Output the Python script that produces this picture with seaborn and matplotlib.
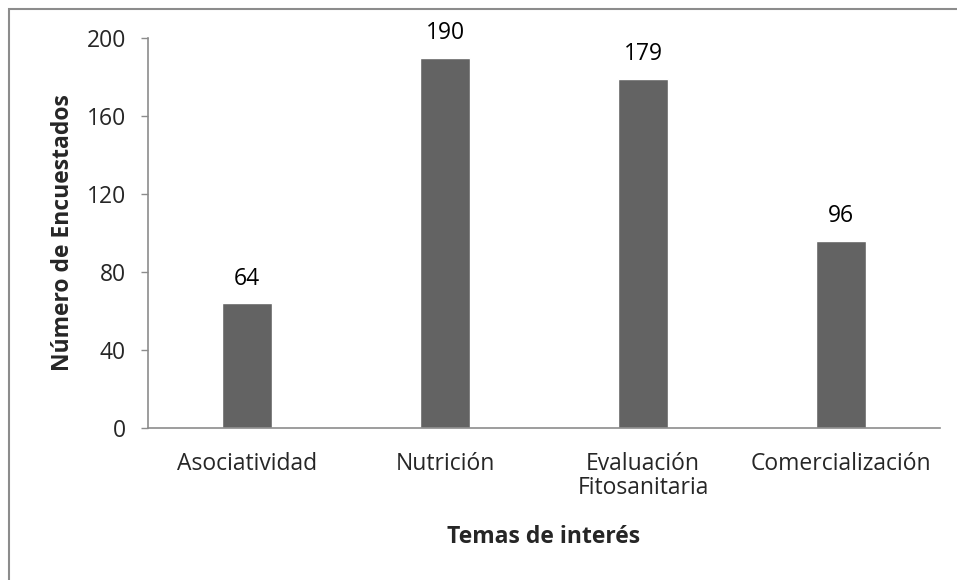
import matplotlib
matplotlib.use("Agg")
import matplotlib.pyplot as plt
import seaborn as sns
import pandas as pd
from matplotlib.patches import Rectangle

categories = ["Asociatividad", "Nutrición", "Evaluación\nFitosanitaria", "Comercialización"]
values = [64, 190, 179, 96]
y_ticks = [0, 40, 80, 120, 160, 200]

sns.set_theme(style="white")
plt.rcParams["font.family"] = ["Open Sans", "DejaVu Sans"]

FS = 16.5
W, H = 957, 580
fig = plt.figure(figsize=(W / 100, H / 100), dpi=100)
ax = fig.add_axes([148 / W, (H - 428) / H, (940 - 148) / W, (428 - 38) / H])

# Outer chart frame
fig.patches.append(Rectangle((9 / W, -0.1), 1.2, (H - 9) / H + 0.1,
                             transform=fig.transFigure, fill=False,
                             edgecolor="#8c8c8c", linewidth=1.5))

df = pd.DataFrame({"tema": categories, "n": values})
sns.barplot(data=df, x="tema", y="n", color="#636363", saturation=1,
            width=0.25, ax=ax)

for i, v in enumerate(values):
    ax.annotate(str(v), (i, v), xytext=(0, 9), textcoords="offset points",
                ha="center", va="bottom", fontsize=FS, color="black")

ax.set_ylim(0, 200)
ax.set_xlim(-0.5, len(categories) - 0.5)
ax.set_yticks(y_ticks)
ax.tick_params(axis="y", which="major", direction="out", length=5, width=1,
               color="#8c8c8c", labelsize=FS, pad=11, left=True)
ax.tick_params(axis="x", length=0, labelsize=FS, pad=17)
for lbl in ax.get_xticklabels():
    lbl.set_linespacing(1.0)

for s in ["top", "right"]:
    ax.spines[s].set_visible(False)
for s in ["left", "bottom"]:
    ax.spines[s].set_color("#8c8c8c")
    ax.spines[s].set_linewidth(1.2)

ax.set_xlabel("Temas de interés", fontsize=FS, fontweight="bold")
ax.set_ylabel("Número de Encuestados", fontsize=FS, fontweight="bold")
ax.xaxis.set_label_coords(0.5, -0.248)
ax.yaxis.set_label_coords(-0.092, 0.5)

fig.savefig("out.png", dpi=100, facecolor="white")
